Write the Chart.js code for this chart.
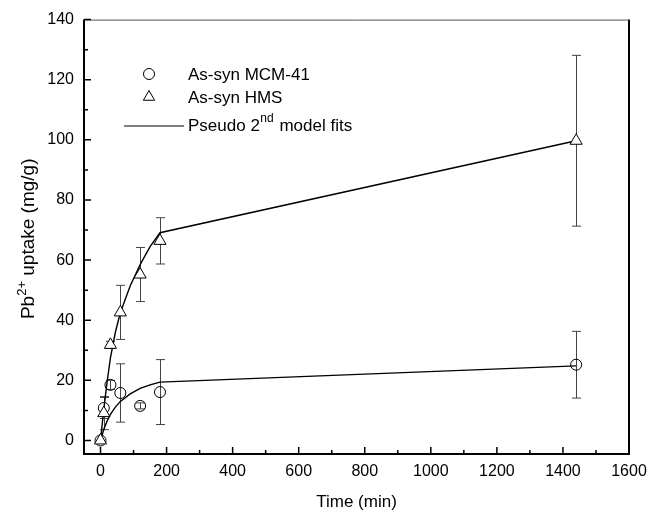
<!DOCTYPE html>
<html><head><meta charset="utf-8">
<script src="https://cdn.jsdelivr.net/npm/chart.js@4.4.1/dist/chart.umd.min.js"></script>
<style>html,body{margin:0;padding:0;background:#fff}#wrap{width:661px;height:518px}</style>
</head><body>
<div id="wrap"><canvas id="c" width="661" height="518"></canvas></div>
<script>
// ---- data ----
const timesMCM  = [0, 10, 30, 60, 120, 180, 1440];
const uptakeMCM = [0, 10.8, 18.5, 15.8, 11.5, 16.1, 25.2];
const errMCM    = [0, 3.5, 1.5, 9.7, 1.0, 10.8, 11.1];
const timesHMS  = [0, 10, 30, 60, 120, 180, 1440];
const uptakeHMS = [0, 9.1, 31.8, 42.6, 55.2, 66.4, 99.7];
const errHMS    = [0, 5.5, 1.2, 9.0, 9.0, 7.7, 28.4];
const fitTimes  = [0, 10, 20, 30, 45, 60, 90, 120, 150, 180, 1440];
const fitMCM    = [0, 3.7, 6.5, 8.7, 11.1, 13.0, 15.5, 17.3, 18.5, 19.4, 24.8];
const fitHMS    = [0, 10.5, 19.5, 27.5, 36.0, 42.5, 51.5, 58.5, 64.5, 69.1, 99.7];
const xTicks    = [0, 200, 400, 600, 800, 1000, 1200, 1400, 1600];
const xMinor    = [100, 300, 500, 700, 900, 1100, 1300, 1500];
const yTicks    = [0, 20, 40, 60, 80, 100, 120, 140];
const yMinor    = [10, 30, 50, 70, 90, 110, 130];
const xTitle    = 'Time (min)';
const yTitle    = ['Pb', '2+', ' uptake (mg/g)'];
const legendMCM = 'As-syn MCM-41';
const legendHMS = 'As-syn HMS';
const legendFit = ['Pseudo 2', 'nd', ' model fits'];

const FONT = '"Liberation Sans", Arial, Helvetica, sans-serif';
const toXY = (xs, ys) => xs.map((x, i) => ({x: x, y: ys[i]}));

const errorBars = {
  id: 'errorBars',
  beforeDatasetsDraw(chart) {
    const {ctx, scales: {x, y}} = chart;
    ctx.save();
    ctx.strokeStyle = '#444';
    ctx.lineWidth = 1;
    const draw = (ts, vs, es) => {
      ts.forEach((t, i) => {
        if (!es[i]) return;
        const px = Math.round(x.getPixelForValue(t)) + 0.5;
        const top = y.getPixelForValue(vs[i] + es[i]);
        const bot = y.getPixelForValue(vs[i] - es[i]);
        ctx.beginPath();
        ctx.moveTo(px, top); ctx.lineTo(px, bot);
        ctx.moveTo(px - 4.5, top); ctx.lineTo(px + 4.5, top);
        ctx.moveTo(px - 4.5, bot); ctx.lineTo(px + 4.5, bot);
        ctx.stroke();
      });
    };
    draw(timesMCM, uptakeMCM, errMCM);
    draw(timesHMS, uptakeHMS, errHMS);
    ctx.restore();
  }
};

const frameAndDecor = {
  id: 'frameAndDecor',
  afterDraw(chart) {
    const {ctx, chartArea: a, scales: {x, y}} = chart;
    ctx.save();
    // frame
    ctx.strokeStyle = '#000';
    ctx.lineWidth = 2;
    ctx.beginPath();
    ctx.moveTo(a.left, a.top); ctx.lineTo(a.left, a.bottom); ctx.lineTo(a.right, a.bottom); ctx.lineTo(a.right, a.top);
    ctx.stroke();
    ctx.strokeStyle = '#555';
    ctx.lineWidth = 1;
    ctx.beginPath(); ctx.moveTo(a.left, a.top + 0.5); ctx.lineTo(a.right, a.top + 0.5); ctx.stroke();
    // inward ticks
    ctx.strokeStyle = '#000';
    ctx.lineWidth = 1.5;
    ctx.beginPath();
    xTicks.forEach(v => { const p = x.getPixelForValue(v); ctx.moveTo(p, a.bottom); ctx.lineTo(p, a.bottom - 7); });
    xMinor.forEach(v => { const p = x.getPixelForValue(v); ctx.moveTo(p, a.bottom); ctx.lineTo(p, a.bottom - 4); });
    yTicks.forEach(v => { const p = y.getPixelForValue(v); ctx.moveTo(a.left, p); ctx.lineTo(a.left + 7, p); });
    yMinor.forEach(v => { const p = y.getPixelForValue(v); ctx.moveTo(a.left, p); ctx.lineTo(a.left + 4, p); });
    ctx.stroke();

    // y title with superscript
    ctx.fillStyle = '#000';
    ctx.textBaseline = 'alphabetic';
    const tBig = '19px ' + FONT, tSmall = '13px ' + FONT;
    ctx.font = tBig; const w0 = ctx.measureText(yTitle[0]).width;
    ctx.font = tSmall; const w1 = ctx.measureText(yTitle[1]).width;
    ctx.font = tBig; const w2 = ctx.measureText(yTitle[2]).width;
    const total = w0 + w1 + w2;
    ctx.translate(34, (a.top + a.bottom) / 2 + 2);
    ctx.rotate(-Math.PI / 2);
    let sx = -total / 2;
    ctx.font = tBig; ctx.fillText(yTitle[0], sx, 0); sx += w0;
    ctx.font = tSmall; ctx.fillText(yTitle[1], sx, -8); sx += w1;
    ctx.font = tBig; ctx.fillText(yTitle[2], sx, 0);
    ctx.setTransform(1, 0, 0, 1, 0, 0);

    // legend
    const big = '17px ' + FONT, small = '12px ' + FONT;
    const lx = 149, tx = 188;
    const rows = [74, 97, 125];
    ctx.textBaseline = 'middle';
    ctx.font = big;
    ctx.strokeStyle = '#000';
    ctx.lineWidth = 1;
    ctx.beginPath(); ctx.arc(lx, rows[0], 5.5, 0, Math.PI * 2); ctx.stroke();
    ctx.fillText(legendMCM, tx, rows[0] + 1);
    const r = 6.5;
    ctx.beginPath();
    ctx.moveTo(lx, rows[1] - r);
    ctx.lineTo(lx + r * 0.866, rows[1] + r * 0.5);
    ctx.lineTo(lx - r * 0.866, rows[1] + r * 0.5);
    ctx.closePath(); ctx.stroke();
    ctx.fillText(legendHMS, tx, rows[1] + 1);
    ctx.beginPath(); ctx.moveTo(124, rows[2] + 1); ctx.lineTo(184, rows[2] + 1); ctx.stroke();
    let fx = tx;
    ctx.font = big; ctx.fillText(legendFit[0], fx, rows[2] + 1); fx += ctx.measureText(legendFit[0]).width + 0.5;
    ctx.font = small; ctx.fillText(legendFit[1], fx, rows[2] - 6); fx += ctx.measureText(legendFit[1]).width + 1;
    ctx.font = big; ctx.fillText(legendFit[2], fx, rows[2] + 1);
    ctx.restore();
  }
};

new Chart(document.getElementById('c'), {
  type: 'scatter',
  data: {
    datasets: [
      { label: legendHMS, data: toXY(timesHMS, uptakeHMS), pointStyle: 'triangle', pointRadius: 7,
        pointBackgroundColor: '#fff', pointBorderColor: '#000', pointBorderWidth: 1, showLine: false },
      { label: legendMCM, data: toXY(timesMCM, uptakeMCM), pointStyle: 'circle', pointRadius: 5.5,
        pointBackgroundColor: 'rgba(0,0,0,0)', pointBorderColor: '#000', pointBorderWidth: 1, showLine: false },
      { label: 'fitHMS', data: toXY(fitTimes, fitHMS), showLine: true, pointRadius: 0,
        borderColor: '#000', borderWidth: 1.4, tension: 0 },
      { label: 'fitMCM', data: toXY(fitTimes, fitMCM), showLine: true, pointRadius: 0,
        borderColor: '#000', borderWidth: 1.4, tension: 0 }
    ]
  },
  options: {
    responsive: false,
    animation: false,
    devicePixelRatio: 1,
    layout: { padding: { top: 17, right: 32, left: 0, bottom: 0 } },
    plugins: { legend: { display: false }, tooltip: { enabled: false } },
    scales: {
      x: {
        type: 'linear', min: -50, max: 1600,
        afterBuildTicks: s => { s.ticks = xTicks.map(v => ({ value: v })); },
        afterFit: s => { s.height = 64; },
        grid: { display: false, drawTicks: false },
        border: { display: false },
        ticks: { color: '#000', font: { family: FONT, size: 16 }, padding: 8, maxRotation: 0,
                 callback: v => String(v) },
        title: { display: true, text: xTitle, color: '#000', font: { family: FONT, size: 17 }, padding: { top: 0, bottom: 5 } }
      },
      y: {
        type: 'linear', min: -4.5, max: 140,
        afterBuildTicks: s => { s.ticks = yTicks.map(v => ({ value: v })); },
        afterFit: s => { s.width = 84; },
        grid: { display: false, drawTicks: false },
        border: { display: false },
        ticks: { color: '#000', font: { family: FONT, size: 16 }, padding: 10, callback: v => String(v) }
      }
    }
  },
  plugins: [errorBars, frameAndDecor]
});
</script>
</body></html>
